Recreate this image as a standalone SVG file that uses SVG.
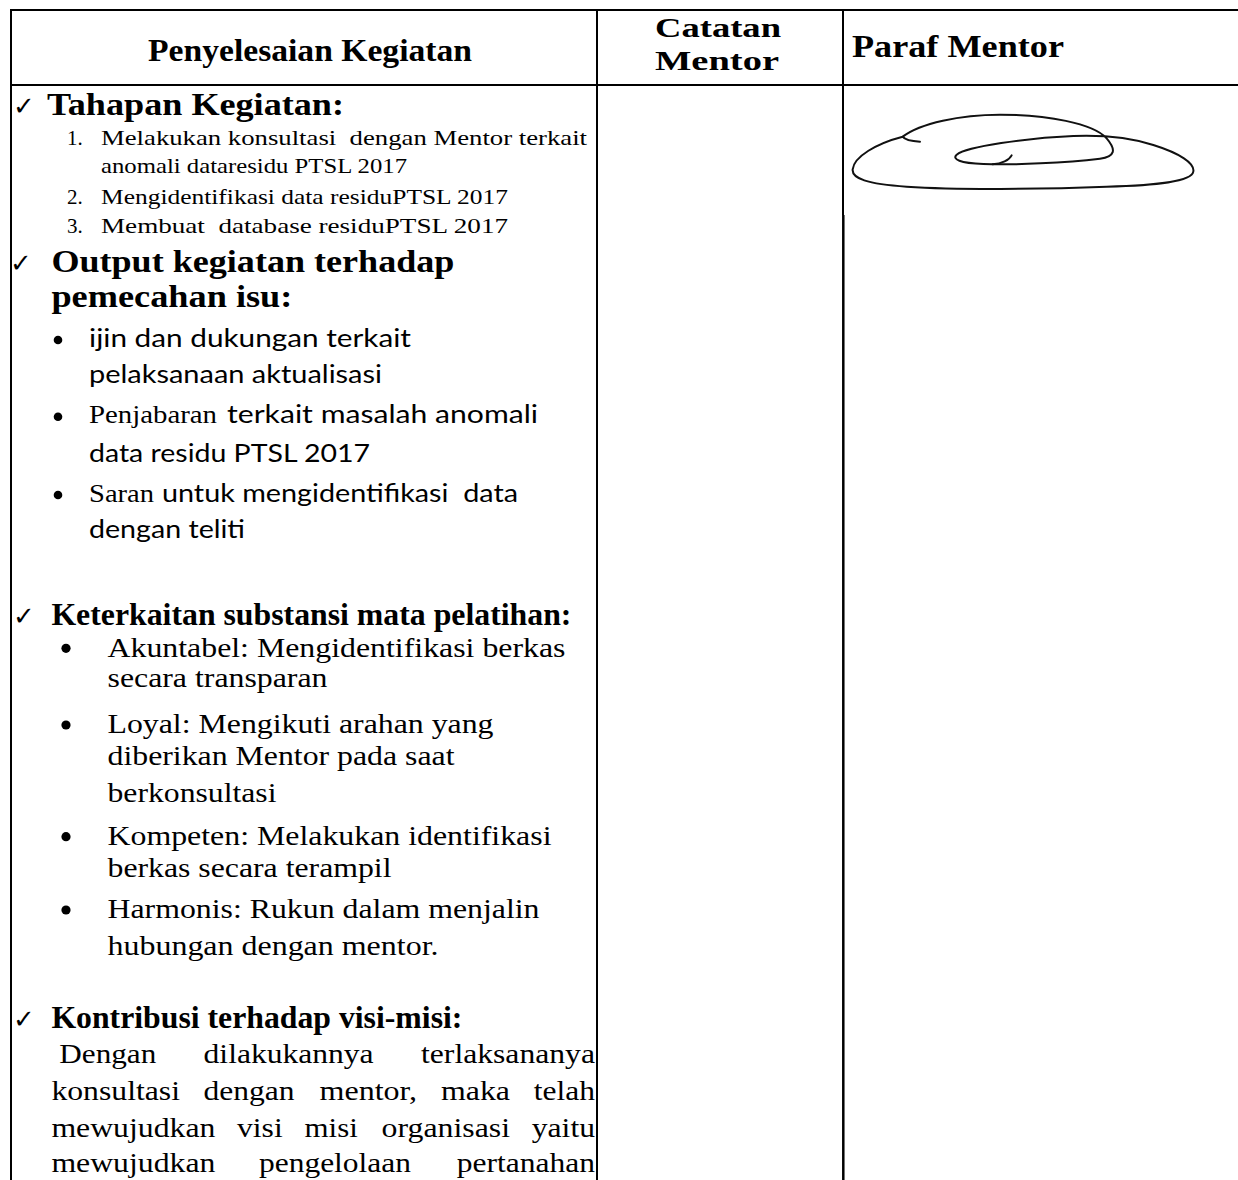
<svg xmlns="http://www.w3.org/2000/svg" width="1238" height="1180" viewBox="0 0 1238 1180">
<style>
text{fill:#000}
.h{font-family:"Liberation Serif","Times New Roman",serif;font-weight:bold}
.r{font-family:"Liberation Serif","Times New Roman",serif}
.s{font-family:Lato,"Liberation Sans",sans-serif}
.ck{font-family:"DejaVu Sans",sans-serif;font-size:26px}
.ln{stroke:#000;stroke-width:2;fill:none}
.sig{stroke:#111;stroke-width:6;fill:none;stroke-linecap:round;stroke-linejoin:round}
</style>
<rect width="1238" height="1180" fill="#fff"/>
<g id="table-lines">
<line class="ln" x1="10" y1="10" x2="1238" y2="10"/>
<line class="ln" x1="10" y1="85" x2="1238" y2="85"/>
<line class="ln" x1="11" y1="9" x2="11" y2="1180"/>
<line class="ln" x1="597" y1="9" x2="597" y2="1180"/>
<line class="ln" x1="843" y1="9" x2="843" y2="215"/>
<line class="ln" x1="843.3" y1="215" x2="843.3" y2="1180" style="stroke-width:2.5"/>
</g>
<g id="header">
<text class="h" x="148" y="61" font-size="32" textLength="324" lengthAdjust="spacingAndGlyphs">Penyelesaian Kegiatan</text>
<text class="h" x="655" y="37" font-size="28" textLength="126" lengthAdjust="spacingAndGlyphs">Catatan</text>
<text class="h" x="655" y="70" font-size="28" textLength="124" lengthAdjust="spacingAndGlyphs">Mentor</text>
<text class="h" x="852" y="57" font-size="31" textLength="212" lengthAdjust="spacingAndGlyphs">Paraf Mentor</text>
</g>
<g id="tahapan">
<text class="ck" x="13" y="115">✓</text>
<text class="h" x="47" y="115" font-size="32" textLength="297" lengthAdjust="spacingAndGlyphs">Tahapan Kegiatan:</text>
<text class="r" x="67" y="145" font-size="21">1.</text>
<text class="r" x="101" y="145" font-size="21" xml:space="preserve" textLength="486" lengthAdjust="spacingAndGlyphs">Melakukan konsultasi  dengan Mentor terkait</text>
<text class="r" x="101" y="173.3" font-size="21" textLength="306" lengthAdjust="spacingAndGlyphs">anomali dataresidu PTSL 2017</text>
<text class="r" x="67" y="204" font-size="21">2.</text>
<text class="r" x="101" y="204" font-size="21" textLength="407" lengthAdjust="spacingAndGlyphs">Mengidentifikasi data residuPTSL 2017</text>
<text class="r" x="67" y="233.3" font-size="21">3.</text>
<text class="r" x="101" y="233.3" font-size="21" xml:space="preserve" textLength="407" lengthAdjust="spacingAndGlyphs">Membuat  database residuPTSL 2017</text>
</g>
<g id="output">
<text class="ck" x="10" y="272">✓</text>
<text class="h" x="51.4" y="272" font-size="31" textLength="403" lengthAdjust="spacingAndGlyphs">Output kegiatan terhadap</text>
<text class="h" x="51.4" y="306.7" font-size="31" textLength="241" lengthAdjust="spacingAndGlyphs">pemecahan isu:</text>
<circle cx="58" cy="340" r="4.3"/>
<circle cx="58" cy="416.7" r="4.3"/>
<circle cx="58" cy="495" r="4.3"/>
<text class="s" x="89" y="346.7" font-size="24.5" textLength="322" lengthAdjust="spacingAndGlyphs">ijin dan dukungan terkait</text>
<text class="s" x="89" y="383.3" font-size="24.5" textLength="293" lengthAdjust="spacingAndGlyphs">pelaksanaan aktualisasi</text>
<text class="r" x="89" y="423.3" font-size="25.5" textLength="128" lengthAdjust="spacingAndGlyphs">Penjabaran</text>
<text class="s" x="227" y="423.3" font-size="24.5" textLength="311" lengthAdjust="spacingAndGlyphs">terkait masalah anomali</text>
<text class="s" x="89" y="461.7" font-size="24.5" textLength="281" lengthAdjust="spacingAndGlyphs">data residu PTSL 2017</text>
<text class="r" x="89" y="501.7" font-size="25.5" textLength="65" lengthAdjust="spacingAndGlyphs">Saran</text>
<text class="s" x="162" y="501.7" font-size="24.5" xml:space="preserve" textLength="356" lengthAdjust="spacingAndGlyphs">untuk mengidentifikasi  data</text>
<text class="s" x="89" y="538.3" font-size="24.5" textLength="156" lengthAdjust="spacingAndGlyphs">dengan teliti</text>
</g>
<g id="keterkaitan">
<text class="ck" x="13" y="625">✓</text>
<text class="h" x="51.4" y="625" font-size="31" textLength="520" lengthAdjust="spacingAndGlyphs">Keterkaitan substansi mata pelatihan:</text>
<circle cx="66" cy="648.3" r="4.6"/>
<circle cx="66" cy="725" r="4.6"/>
<circle cx="66" cy="836.7" r="4.6"/>
<circle cx="66" cy="910" r="4.6"/>
<text class="r" x="107.5" y="656.7" font-size="26.5" textLength="458" lengthAdjust="spacingAndGlyphs">Akuntabel: Mengidentifikasi berkas</text>
<text class="r" x="107.5" y="686.7" font-size="26.5" textLength="220" lengthAdjust="spacingAndGlyphs">secara transparan</text>
<text class="r" x="107.5" y="733.3" font-size="26.5" textLength="386" lengthAdjust="spacingAndGlyphs">Loyal: Mengikuti arahan yang</text>
<text class="r" x="107.5" y="765" font-size="26.5" textLength="347" lengthAdjust="spacingAndGlyphs">diberikan Mentor pada saat</text>
<text class="r" x="107.5" y="801.7" font-size="26.5" textLength="169" lengthAdjust="spacingAndGlyphs">berkonsultasi</text>
<text class="r" x="107.5" y="845" font-size="26.5" textLength="444" lengthAdjust="spacingAndGlyphs">Kompeten: Melakukan identifikasi</text>
<text class="r" x="107.5" y="876.7" font-size="26.5" textLength="284" lengthAdjust="spacingAndGlyphs">berkas secara terampil</text>
<text class="r" x="107.5" y="918.3" font-size="26.5" textLength="432" lengthAdjust="spacingAndGlyphs">Harmonis: Rukun dalam menjalin</text>
<text class="r" x="107.5" y="955" font-size="26.5" textLength="331" lengthAdjust="spacingAndGlyphs">hubungan dengan mentor.</text>
</g>
<g id="kontribusi">
<text class="ck" x="13" y="1028">✓</text>
<text class="h" x="51.4" y="1028.3" font-size="31" textLength="411" lengthAdjust="spacingAndGlyphs">Kontribusi terhadap visi-misi:</text>
<text class="r" font-size="26.5" y="1063.3"><tspan x="59.3" textLength="97" lengthAdjust="spacingAndGlyphs">Dengan</tspan> <tspan x="203.6" textLength="170" lengthAdjust="spacingAndGlyphs">dilakukannya</tspan> <tspan x="421" textLength="174" lengthAdjust="spacingAndGlyphs">terlaksananya</tspan></text>
<text class="r" font-size="26.5" y="1100"><tspan x="51.4" textLength="128.6" lengthAdjust="spacingAndGlyphs">konsultasi</tspan> <tspan x="203.6" textLength="91" lengthAdjust="spacingAndGlyphs">dengan</tspan> <tspan x="319.5" textLength="97.5" lengthAdjust="spacingAndGlyphs">mentor,</tspan> <tspan x="441" textLength="69" lengthAdjust="spacingAndGlyphs">maka</tspan> <tspan x="533.8" textLength="61.2" lengthAdjust="spacingAndGlyphs">telah</tspan></text>
<text class="r" font-size="26.5" y="1136.7"><tspan x="51.4" textLength="164" lengthAdjust="spacingAndGlyphs">mewujudkan</tspan> <tspan x="237" textLength="45.7" lengthAdjust="spacingAndGlyphs">visi</tspan> <tspan x="304.5" textLength="53.3" lengthAdjust="spacingAndGlyphs">misi</tspan> <tspan x="381.6" textLength="128.4" lengthAdjust="spacingAndGlyphs">organisasi</tspan> <tspan x="531.8" textLength="63.2" lengthAdjust="spacingAndGlyphs">yaitu</tspan></text>
<text class="r" font-size="26.5" y="1171.7"><tspan x="51.4" textLength="164" lengthAdjust="spacingAndGlyphs">mewujudkan</tspan> <tspan x="259" textLength="152" lengthAdjust="spacingAndGlyphs">pengelolaan</tspan> <tspan x="456.7" textLength="138.3" lengthAdjust="spacingAndGlyphs">pertanahan</tspan></text>
</g>
<g id="paraf-signature" transform="translate(840,110) scale(0.3333)">
<path class="sig" d="M240 95 C215 94 195 90 188 80 C240 40 360 14 480 14 C620 14 760 40 800 85 C830 120 825 140 780 146 C680 158 520 166 430 162 C360 159 335 148 350 134 C380 110 560 84 700 78 C780 75 870 82 940 105 C1020 130 1065 160 1060 185 C1055 215 950 226 800 230 C600 238 350 240 200 230 C80 222 35 205 38 178 C42 140 110 100 188 80"/>
<path class="sig" d="M458 163 C485 162 508 150 515 136"/>
</g>
</svg>
